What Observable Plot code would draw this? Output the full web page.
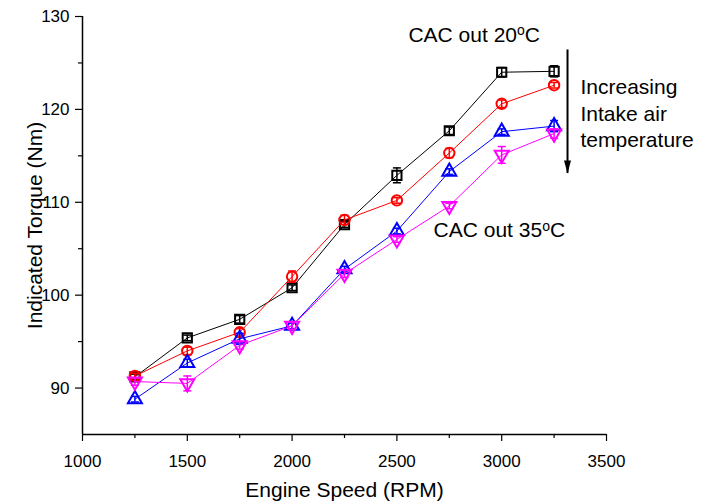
<!DOCTYPE html>
<html>
<head>
<meta charset="utf-8">
<script src="https://cdn.jsdelivr.net/npm/d3@7"></script>
<script src="https://cdn.jsdelivr.net/npm/@observablehq/plot@0.6"></script>
<style>
  html, body { margin: 0; padding: 0; background: #fff; }
  #chart svg { display: block; }
</style>
</head>
<body>
<div id="chart"></div>
<script>
// ---- data ----
const speeds = [1250, 1500, 1750, 2000, 2250, 2500, 2750, 3000, 3250];
const torque20 = [91.2, 95.4, 97.4, 100.8, 107.6, 112.9, 117.7, 124.0, 124.1];
const err20    = [0.3, 0.3, 0.4, 0.3, 0.3, 0.8, 0.4, 0.5, 0.6];
const torqueRed = [91.3, 94.0, 96.0, 102.0, 108.1, 110.2, 115.3, 120.6, 122.6];
const errRed    = [0.3, 0.4, 0.4, 0.6, 0.5, 0.3, 0.5, 0.4, 0.3];
const torqueBlue = [88.8, 92.7, 95.3, 96.7, 102.8, 106.9, 113.3, 117.6, 118.2];
const errBlue    = [0.3, 0.4, 0.6, 0.3, 0.3, 0.3, 0.3, 0.3, 0.6];
const torque35 = [90.7, 90.5, 94.6, 96.7, 102.3, 106.0, 109.6, 115.1, 117.4];
const err35    = [0.4, 0.8, 0.4, 0.4, 0.4, 0.3, 0.3, 0.9, 0.5];
const seriesNames = ["CAC20", "S2", "S3", "CAC35"];
const seriesColors = ["#000000", "#ff0000", "#0000ff", "#ff00ff"];
const xTicks = [1000, 1500, 2000, 2500, 3000, 3500];
const xMinor = [1250, 1750, 2250, 2750, 3250];
const yTicks = [90, 100, 110, 120, 130];
const yMinor = [95, 105, 115, 125];
const xLabel = "Engine Speed (RPM)";
const yLabel = "Indicated Torque (Nm)";
const annot = [
  {x: 2555, y: 128.2, text: "CAC out 20oC", sup: true},
  {x: 2675, y: 107.15, text: "CAC out 35oC", sup: true},
  {x: 3376, y: 119.7, text: "Increasing\nIntake air\ntemperature", sup: false}
];
const arrowSpec = {x: 3314, y1: 126.4, y2: 113.1};

// ---- table ----
const allY = [torque20, torqueRed, torqueBlue, torque35];
const allE = [err20, errRed, errBlue, err35];
const rows = [];
seriesNames.forEach((s, i) => {
  speeds.forEach((sp, j) => {
    rows.push({series: s, speed: sp, torque: allY[i][j], lo: allY[i][j] - allE[i][j], hi: allY[i][j] + allE[i][j]});
  });
});

// custom symbols
const sqrt3 = Math.sqrt(3);
const triDown = {
  draw(context, size) {
    const y = -Math.sqrt(size / (sqrt3 * 3));
    context.moveTo(0, -y * 2);
    context.lineTo(-sqrt3 * y, y);
    context.lineTo(sqrt3 * y, y);
    context.closePath();
  }
};
const capSym = {
  draw(context, size) {
    const r = 4;
    context.moveTo(-r, 0);
    context.lineTo(r, 0);
  }
};
const headSym = {
  draw(context, size) {
    context.moveTo(0, 0);
    context.lineTo(-3.5, -13);
    context.lineTo(3.5, -13);
    context.closePath();
  }
};
const symbolMap = {CAC20: "square", S2: "circle", S3: "triangle", CAC35: triDown};

const font = "'Liberation Sans', Arial, sans-serif";
const marks = [];
// axis lines
marks.push(Plot.ruleX([1000], {y1: 85, y2: 130, stroke: "#000", strokeWidth: 1.5}));
marks.push(Plot.ruleY([85], {x1: 1000, x2: 3500, stroke: "#000", strokeWidth: 1.5}));
marks.push(Plot.axisX({ticks: xTicks, tickFormat: d => String(d), tickSize: 7, tickPadding: 13, fontSize: 17, label: null, strokeWidth: 1.2}));
marks.push(Plot.axisX({ticks: xMinor, tickSize: 4, text: null, label: null, strokeWidth: 1.2}));
marks.push(Plot.axisY({ticks: yTicks, tickFormat: d => String(d), tickSize: 7, tickPadding: 6, fontSize: 17, label: null, strokeWidth: 1.2}));
marks.push(Plot.axisY({ticks: yMinor, tickSize: 4, text: null, label: null, strokeWidth: 1.2}));
// axis titles
marks.push(Plot.text([xLabel], {frameAnchor: "bottom", dy: 56, text: d => d, fontSize: 21, textAnchor: "middle", lineAnchor: "middle"}));
marks.push(Plot.text([yLabel], {frameAnchor: "left", dx: -47, rotate: -90, text: d => d, fontSize: 21, textAnchor: "middle", lineAnchor: "middle"}));

seriesNames.forEach((s, i) => {
  const data = rows.filter(r => r.series === s);
  const c = seriesColors[i];
  marks.push(Plot.line(data, {x: "speed", y: "torque", stroke: c, strokeWidth: 1}));
  marks.push(Plot.ruleX(data, {x: "speed", y1: "lo", y2: "hi", stroke: c, strokeWidth: 1.5}));
  marks.push(Plot.dot(data, {x: "speed", y: "hi", symbol: capSym, stroke: c, strokeWidth: 1.5}));
  marks.push(Plot.dot(data, {x: "speed", y: "lo", symbol: capSym, stroke: c, strokeWidth: 1.5}));
  marks.push(Plot.dot(data, {x: "speed", y: "torque", symbol: symbolMap[s], r: 5.2, stroke: c, strokeWidth: 2, fill: "none"}));
});

// annotations
marks.push(Plot.text(annot, {x: "x", y: "y", text: "text", textAnchor: "start", lineAnchor: "middle", fontSize: 21, lineHeight: 1.24, className: "annot"}));
marks.push(Plot.ruleX([arrowSpec], {x: "x", y1: "y1", y2: "y2", stroke: "#000", strokeWidth: 2}));
marks.push(Plot.dot([arrowSpec], {x: "x", y: "y2", symbol: headSym, fill: "#000", stroke: "none"}));

const plot = Plot.plot({
  width: 702,
  height: 504,
  marginTop: 16,
  marginBottom: 70,
  marginLeft: 82,
  marginRight: 96,
  style: {fontFamily: font, fontSize: "17px", color: "#000", background: "#fff"},
  x: {domain: [1000, 3500]},
  y: {domain: [85, 130]},
  marks
});

// superscript "o" in degree labels
d3.select(plot).selectAll("g.annot text").each(function() {
  const t = d3.select(this);
  const s = t.text();
  const m = s.match(/^(CAC out \d+)oC$/);
  if (m) {
    t.text(null);
    t.append("tspan").text(m[1]);
    t.append("tspan").attr("dy", "-0.45em").attr("font-size", "14px").text("o");
    t.append("tspan").attr("dy", "0.3em").text("C");
  }
});

document.getElementById("chart").appendChild(plot);
</script>
</body>
</html>
